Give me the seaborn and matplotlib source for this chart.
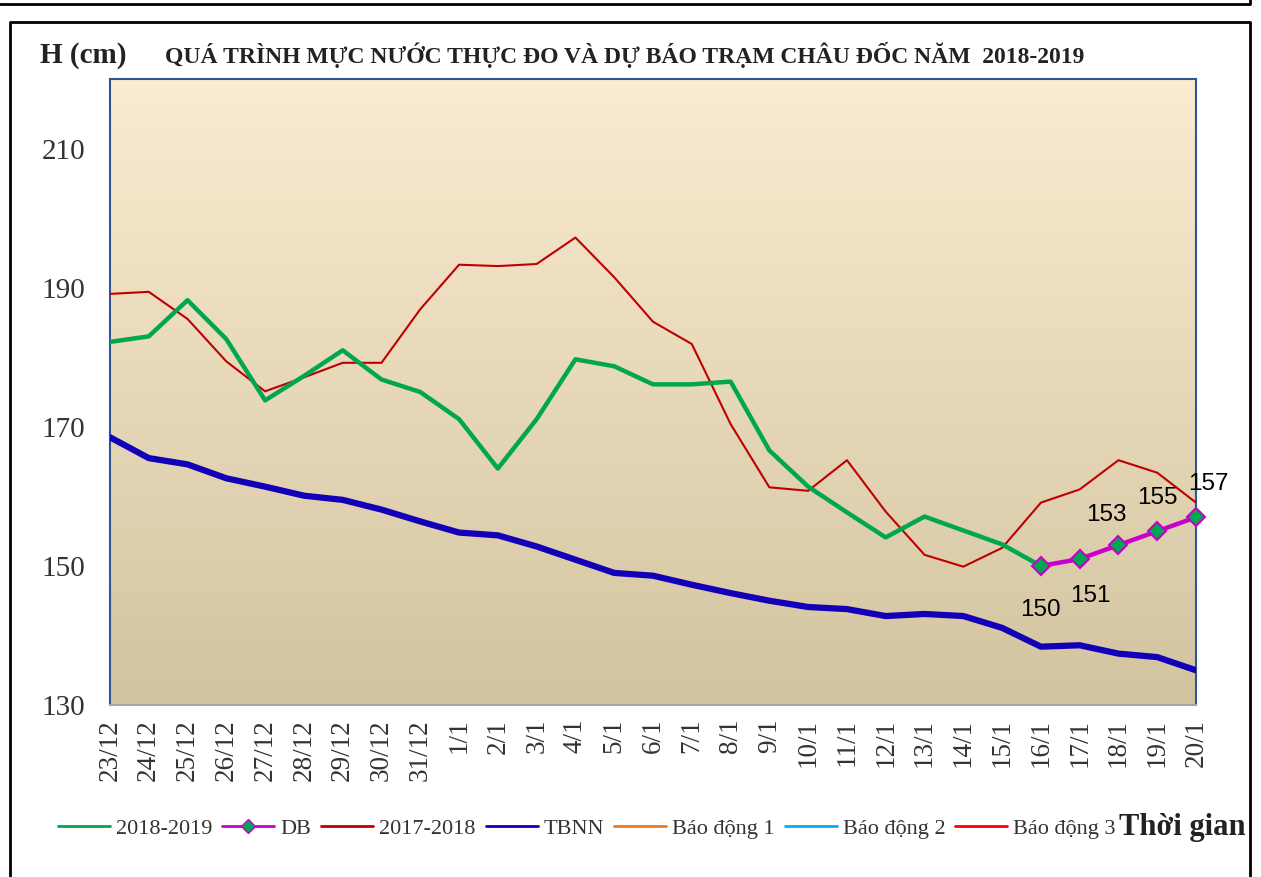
import numpy as np
import pandas as pd
import seaborn as sns
import matplotlib.pyplot as plt
from matplotlib.lines import Line2D

dates = ['23/12', '24/12', '25/12', '26/12', '27/12', '28/12', '29/12', '30/12', '31/12',
         '1/1', '2/1', '3/1', '4/1', '5/1', '6/1', '7/1', '8/1', '9/1', '10/1', '11/1',
         '12/1', '13/1', '14/1', '15/1', '16/1', '17/1', '18/1', '19/1', '20/1']

h_2018_2019 = [182.2, 183.0, 188.2, 182.6, 173.8, 177.3, 181.0, 176.8, 175.0, 171.1,
               164.0, 171.1, 179.7, 178.7, 176.1, 176.1, 176.5, 166.6, 161.4, 157.7,
               154.1, 157.1, 155.1, 153.1, 150.0]
db_dates = ['16/1', '17/1', '18/1', '19/1', '20/1']
db = [150, 151, 153, 155, 157]
h_2017_2018 = [189.1, 189.4, 185.5, 179.4, 175.1, 177.1, 179.2, 179.2, 186.9, 193.3,
               193.1, 193.4, 197.2, 191.5, 185.1, 181.9, 170.4, 161.3, 160.8, 165.2,
               157.8, 151.6, 149.9, 152.6, 159.1, 161.0, 165.2, 163.4, 159.1]
tbnn = [168.5, 165.5, 164.6, 162.6, 161.4, 160.1, 159.5, 158.1, 156.4, 154.8,
        154.4, 152.8, 150.9, 149.0, 148.6, 147.3, 146.1, 145.0, 144.1, 143.8,
        142.8, 143.1, 142.8, 141.1, 138.4, 138.6, 137.4, 136.9, 135.0]
# alarm levels (off the visible range)
bd1, bd2, bd3 = 350, 400, 450

x_all = np.arange(len(dates))
x_db = np.array([dates.index(d) for d in db_dates])

GREEN = '#00A650'
MAG = '#C800C8'
RED = '#C00000'
BLUE = '#1100B8'

sns.set_style("white")
plt.rcParams['font.family'] = ['Liberation Serif', 'DejaVu Serif']

fig = plt.figure(figsize=(12.61, 8.77), dpi=100)
ax = fig.add_axes([0.0872, 0.196, 0.8613, 0.714])

# gradient background
grad = np.linspace(0, 1, 256).reshape(-1, 1)
top = np.array([251, 236, 210]) / 255
bot = np.array([211, 196, 160]) / 255
img = top + (bot - top) * grad[:, :, None]
ax.imshow(img, extent=[0, 28, 130, 220], aspect='auto', origin='upper', zorder=0)

sns.lineplot(x=x_all[:len(h_2018_2019)], y=h_2018_2019, ax=ax, color=GREEN, lw=3.2, zorder=4)
sns.lineplot(x=x_db, y=db, ax=ax, color=MAG, lw=3.2, marker='D', markersize=9,
             markerfacecolor=GREEN, markeredgecolor=MAG, markeredgewidth=1.5,
             zorder=6, clip_on=False)
sns.lineplot(x=x_all, y=h_2017_2018, ax=ax, color=RED, lw=1.5, zorder=3)
sns.lineplot(x=x_all, y=tbnn, ax=ax, color=BLUE, lw=4.5, zorder=3)
sns.lineplot(x=x_all, y=[bd1] * len(dates), ax=ax, color='#F07820', lw=2)
sns.lineplot(x=x_all, y=[bd2] * len(dates), ax=ax, color='#00B0F0', lw=2)
sns.lineplot(x=x_all, y=[bd3] * len(dates), ax=ax, color='#FF0000', lw=2)

# data labels for forecast
offsets = [(0, -32), (8, -27), (-9, 22), (0, 24), (9, 24)]
for xi, v, off in zip(x_db, db, offsets):
    ax.annotate(str(v), (xi, v), textcoords='offset points', xytext=off,
                ha='center', va='center', fontsize=17.5, family='Liberation Sans',
                color='black', annotation_clip=False, zorder=7)

ax.set_xlim(0, 28)
ax.set_ylim(130, 220)
ax.set_yticks([130, 150, 170, 190, 210])
ax.set_xticks(x_all)
ax.set_xticklabels(dates, rotation=90, fontsize=19.5)
ax.tick_params(axis='y', labelsize=21, pad=18, length=0, labelcolor='#333333')
ax.tick_params(axis='x', pad=10, length=0, labelcolor='#333333')
ax.set_xlabel('')
ax.set_ylabel('')
for s in ['left', 'right', 'top']:
    ax.spines[s].set_color('#2F5597')
    ax.spines[s].set_linewidth(1.5)
ax.spines['bottom'].set_color('#A6A6A6')
ax.spines['bottom'].set_linewidth(1.5)

labels = ['2018-2019', 'DB', '2017-2018', 'TBNN', 'Báo động 1', 'Báo động 2', 'Báo động 3']
handles = [Line2D([], [], color=GREEN, lw=2),
           Line2D([], [], color=MAG, lw=2, marker='D', markersize=7,
                  markerfacecolor=GREEN, markeredgecolor=MAG),
           Line2D([], [], color=RED, lw=2),
           Line2D([], [], color=BLUE, lw=2),
           Line2D([], [], color='#F07820', lw=2),
           Line2D([], [], color='#00B0F0', lw=2),
           Line2D([], [], color='#FF0000', lw=2)]
leg = fig.legend(handles, labels, loc='center left', bbox_to_anchor=(0.046, 0.055), ncol=7,
                 frameon=False, fontsize=16, handlelength=2.34, columnspacing=0.45,
                 handletextpad=0.27, borderaxespad=0, borderpad=0)
for t in leg.get_texts():
    t.set_color('#333333')
fig.text(0.988, 0.056, 'Thời gian', ha='right', va='center', fontsize=22, fontweight='bold',
         color='#222222')

fig.text(0.032, 0.937, 'H (cm)', ha='left', va='center', fontsize=21, fontweight='bold',
         color='#222222')
fig.text(0.131, 0.937, 'QUÁ TRÌNH MỰC NƯỚC THỰC ĐO VÀ DỰ BÁO TRẠM CHÂU ĐỐC NĂM  2018-2019',
         ha='left', va='center', fontsize=17, fontweight='bold', color='#222222')

# outer frames
fig.add_artist(Line2D([0.008, 0.008, 0.991, 0.991], [0, 0.975, 0.975, 0],
                      transform=fig.transFigure, color='black', lw=2))
fig.add_artist(Line2D([0, 0.991, 0.991], [0.995, 0.995, 1.0],
                      transform=fig.transFigure, color='black', lw=2))

fig.savefig('out.png', dpi=100)
